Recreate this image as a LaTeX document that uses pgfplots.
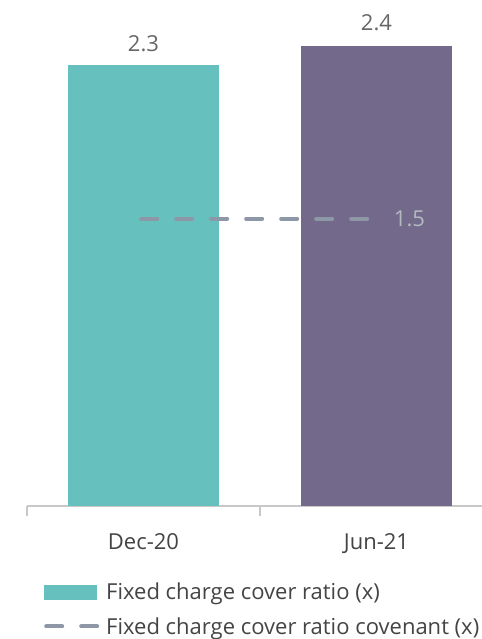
\documentclass[border=0pt]{standalone}
\usepackage{pgfplots}
\pgfplotsset{compat=1.18}
\usepackage{fontspec}
\setmainfont{Open Sans}
\definecolor{teal1}{HTML}{66C0BE}
\definecolor{purp1}{HTML}{736A8B}
\definecolor{covgrey}{HTML}{8E97A6}
\definecolor{axgrey}{HTML}{C8C8C8}
\definecolor{txtgrey}{HTML}{444444}
\definecolor{lblgrey}{HTML}{666666}
\definecolor{lightlbl}{HTML}{B4B8C0}
\newcommand{\chartfont}{\fontsize{22bp}{26bp}\selectfont}
\begin{document}
\begin{tikzpicture}
\useasboundingbox (0,0) rectangle (482bp,639bp);
\begin{axis}[
    scale only axis,
    at={(27bp,133bp)}, anchor=south west,
    width=455bp, height=506bp,
    xmin=-0.5, xmax=1.453,
    ymin=0, ymax=2.642,
    axis x line=bottom,
    axis y line=none,
    axis line style={axgrey, line width=1.2bp, -},
    /pgf/number format/assume math mode=true,
    xtick={0,1},
    xticklabels={Dec-20, Jun-21},
    major tick length=0pt,
    extra x ticks={-0.5,0.5},
    extra x tick labels={},
    extra x tick style={major tick length=10bp, tick align=outside, tick style={axgrey, line width=1.2bp}},
    xticklabel style={font=\chartfont, text=txtgrey, yshift=-24bp},
    clip=false,
    legend style={
        at={(17bp,-75bp)}, anchor=north west,
        draw=none, fill=none,
        font=\chartfont, text=txtgrey,
        row sep=12bp, inner sep=0pt,
        /tikz/every odd column/.append style={column sep=5bp},
        cells={anchor=west},
    },
    legend cell align=left,
]
\addplot[ybar, bar width=151bp, bar shift=0pt, fill=teal1, draw=none,
    nodes near coords, every node near coord/.append style={font=\chartfont, text=lblgrey, yshift=10bp},
    area legend,
    legend image code/.code={\fill[teal1] (0bp,-7.5bp) rectangle (53bp,7.5bp);}]
    coordinates {(0,2.3)};
\addlegendentry{Fixed charge cover ratio (x)}
\addplot[ybar, bar width=151bp, bar shift=0pt, fill=purp1, draw=none, forget plot,
    nodes near coords, every node near coord/.append style={font=\chartfont, text=lblgrey, yshift=12bp}]
    coordinates {(1,2.4)};
\addplot[covgrey, line width=4bp, line cap=round, dash pattern=on 16bp off 19bp,
    legend image code/.code={\draw[covgrey, line width=4bp, line cap=round, dash pattern=on 16bp off 19bp] (2bp,0bp) -- (53bp,0bp);}]
    coordinates {(-0.01,1.5) (0.985,1.5)};
\addlegendentry{Fixed charge cover ratio covenant (x)}
\node[anchor=west, text=lightlbl, font=\chartfont] at (axis cs:1.06,1.5) {1.5};
\end{axis}
\end{tikzpicture}
\end{document}
